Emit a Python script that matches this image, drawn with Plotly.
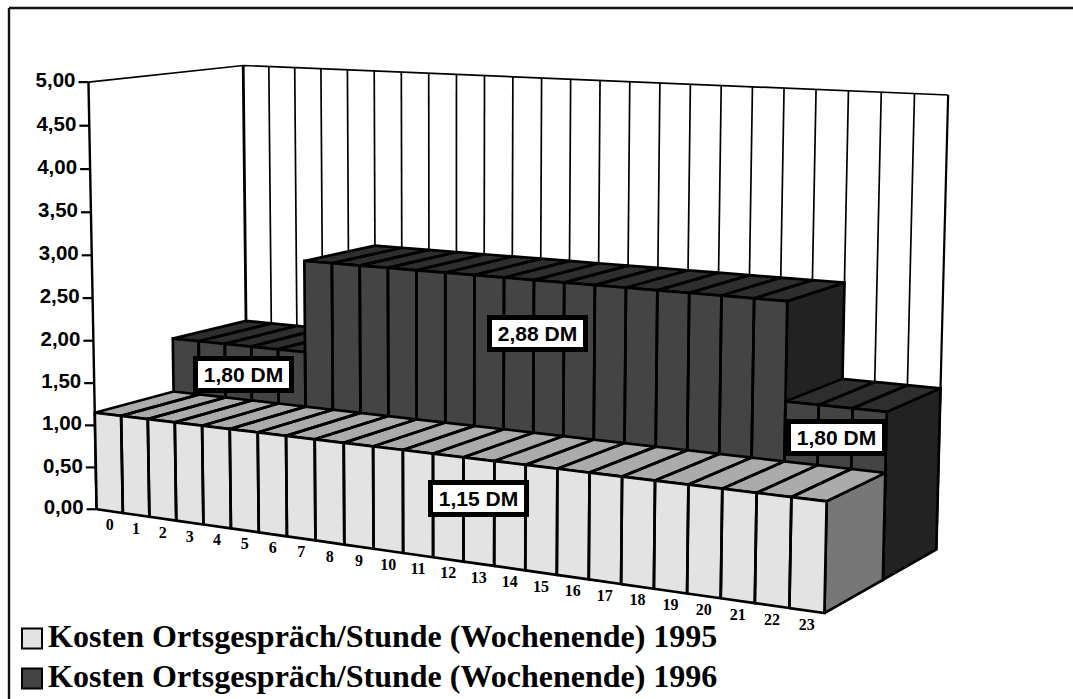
import numpy as np
import plotly.graph_objects as go

# ---- data ----
hours = list(range(24))
hour_labels = [str(h) for h in hours]
values_1995 = [1.15] * 24
values_1996 = [1.80] * 5 + [2.88] * 16 + [1.80] * 3
y_ticks = [0.0, 0.5, 1.0, 1.5, 2.0, 2.5, 3.0, 3.5, 4.0, 4.5, 5.0]
y_tick_labels = ["0,00", "0,50", "1,00", "1,50", "2,00", "2,50", "3,00", "3,50", "4,00", "4,50", "5,00"]
series_names = ["Kosten Ortsgespräch/Stunde (Wochenende) 1995",
                "Kosten Ortsgespräch/Stunde (Wochenende) 1996"]
value_labels = ["1,80 DM", "2,88 DM", "1,15 DM", "1,80 DM"]

# ---- camera: (hour edge, value, depth row) -> page position, fitted to the picture's box ----
CALIB = [
    (0, 0, 0, 96, 509), (24, 0, 0, 825, 613), (0, 1.15, 0, 96, 413), (24, 1.15, 0, 827, 501),
    (0, 5, 0, 88, 82), (0, 5, 2, 243.5, 66), (24, 5, 2, 948, 95), (24, 0, 2, 937, 550),
    (24, 1.8, 2, 940, 388), (24, 1.15, 1, 884, 474), (24, 0, 1, 882, 579), (24, 1.8, 1, 887, 412),
    (5, 2.88, 1, 304, 261), (5, 2.88, 2, 375, 245), (0, 1.8, 1, 173, 338), (0, 1.8, 2, 246, 321),
    (0, 1.15, 1, 173, 392), (21, 1.8, 1, 786, 402), (21, 2.88, 2, 845, 282),
]
A, b = [], []
for h, v, d, px, py in CALIB:
    A.append([h, v, d, 1, 0, 0, 0, 0, -px * h, -px * v, -px * d]); b.append(px)
    A.append([0, 0, 0, 0, h, v, d, 1, -py * h, -py * v, -py * d]); b.append(py)
P = np.linalg.lstsq(np.array(A, float), np.array(b, float), rcond=None)[0]


def proj(h, v, d):
    w = P[8] * h + P[9] * v + P[10] * d + 1
    return ((P[0] * h + P[1] * v + P[2] * d + P[3]) / w,
            (P[4] * h + P[5] * v + P[6] * d + P[7]) / w)


def poly(points):
    xs, ys = zip(*[proj(*p) for p in points])
    return list(xs) + [xs[0], None], list(ys) + [ys[0], None]


def merge(polys):
    xs, ys = [], []
    for x, y in polys:
        xs += x
        ys += y
    return xs, ys


fig = go.Figure()


def filled(name, polys, color, width=2.7):
    x, y = merge(polys)
    fig.add_trace(go.Scatter(x=x, y=y, mode="lines", fill="toself", fillcolor=color, name=name,
                             line=dict(color="black", width=width, simplify=False),
                             hoverinfo="skip", showlegend=False))


def stroked(name, segs, width):
    xs, ys = [], []
    for seg in segs:
        for p in seg:
            px, py = proj(*p)
            xs.append(px)
            ys.append(py)
        xs.append(None)
        ys.append(None)
    fig.add_trace(go.Scatter(x=xs, y=ys, mode="lines", name=name, hoverinfo="skip", showlegend=False,
                             line=dict(color="black", width=width, simplify=False)))


WALL = 2
# back wall
stroked("wall grid", [[(h, 0, WALL), (h, 5, WALL)] for h in range(1, 24)], 1.7)
stroked("wall top", [[(0, 5, 0), (0, 5, WALL), (24, 5, WALL)]], 1.7)
stroked("wall left", [[(0, 0, WALL), (0, 5, WALL)]], 2.8)
stroked("wall right", [[(24, 0, WALL), (24, 5, WALL)]], 2.2)
stroked("value axis", [[(0, 0, 0), (0, 5, 0)]], 2.4)


def series(values, d0, d1, front, top, side):
    sides, tops, fronts = [], [], []
    for i, val in enumerate(values):
        nxt = values[i + 1] if i + 1 < len(values) else 0
        if val > nxt:
            sides.append(poly([(i + 1, 0, d0), (i + 1, 0, d1), (i + 1, val, d1), (i + 1, val, d0)]))
        tops.append(poly([(i, val, d0), (i + 1, val, d0), (i + 1, val, d1), (i, val, d1)]))
        fronts.append(poly([(i, 0, d0), (i + 1, 0, d0), (i + 1, val, d0), (i, val, d0)]))
    filled("side", sides, side)
    filled("top", tops, top)
    filled("front", fronts, front)


series(values_1996, 1, 2, "#444444", "#2E2E2E", "#222222")
series(values_1995, 0, 1, "#E3E3E3", "#ABABAB", "#777777")

# value axis ticks and labels
tx, ty, lx, ly = [], [], [], []
for v in y_ticks:
    px, py = proj(0, v, 0)
    tx += [px - 10, px, None]
    ty += [py, py, None]
    lx.append(px - 13)
    ly.append(py)
fig.add_trace(go.Scatter(x=tx, y=ty, mode="lines", line=dict(color="black", width=2.2), hoverinfo="skip", showlegend=False))
fig.add_trace(go.Scatter(x=lx, y=ly, mode="text", text=y_tick_labels, textposition="middle left", hoverinfo="skip", showlegend=False,
                         textfont=dict(family="Liberation Sans", size=20.5, color="black", weight="bold")))

# hour labels
hx, hy = zip(*[proj(h + 0.5, 0, 0) for h in hours])
fig.add_trace(go.Scatter(x=list(hx), y=[y + 15 for y in hy], mode="text", text=hour_labels, textposition="middle center",
                         hoverinfo="skip", showlegend=False,
                         textfont=dict(family="Liberation Serif", size=16, color="black", weight="bold")))

# legend
for name, color, y in zip(series_names, ["#E3E3E3", "#444444"], [638.5, 678.5]):
    fig.add_trace(go.Scatter(x=[32], y=[y], mode="markers", hoverinfo="skip", showlegend=False,
                             marker=dict(symbol="square", size=20, color=color, line=dict(color="black", width=2))))
    fig.add_trace(go.Scatter(x=[48], y=[y], mode="text", text=[name], textposition="middle right", hoverinfo="skip", showlegend=False,
                             textfont=dict(family="Liberation Serif", size=32, color="black", weight="bold")))

# value boxes
for text, x, y in zip(value_labels, [243.5, 537.5, 478.5, 836], [374, 333.5, 498, 437]):
    fig.add_annotation(x=x, y=y, xref="x", yref="y", text="<b>%s</b>" % text, showarrow=False, xanchor="center", yanchor="middle",
                       width=91, height=27, bgcolor="white", bordercolor="black", borderwidth=5, borderpad=0,
                       font=dict(family="Liberation Sans", size=21, color="black"))

fig.update_layout(
    width=1073, height=699, margin=dict(l=0, r=0, t=0, b=0), autosize=False,
    paper_bgcolor="white", plot_bgcolor="white", showlegend=False,
    xaxis=dict(range=[0, 1073], visible=False, fixedrange=True),
    yaxis=dict(range=[699, 0], visible=False, fixedrange=True),
    shapes=[dict(type="line", x0=9, x1=1073, y0=8, y1=8, xref="x", yref="y", line=dict(color="#111111", width=2.4)),
            dict(type="line", x0=9, x1=9, y0=8, y1=699, xref="x", yref="y", line=dict(color="#111111", width=2.4))],
)
fig.write_html("out.html", config={"displayModeBar": False},
               post_script="document.body.style.margin='0';document.body.style.overflow='hidden';")
